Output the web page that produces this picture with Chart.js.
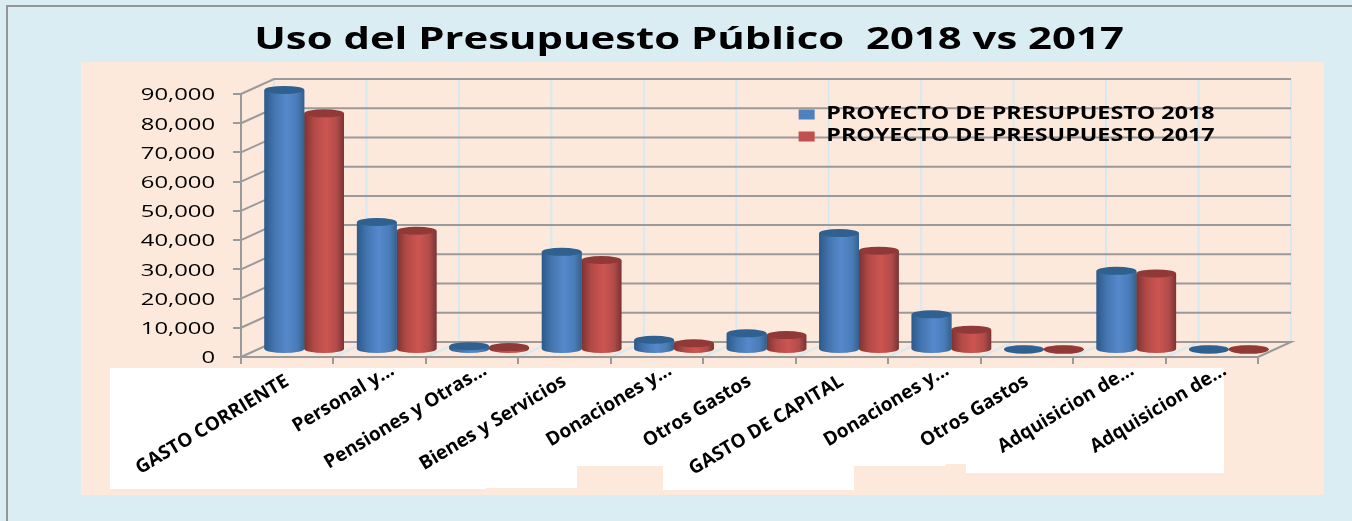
<!DOCTYPE html>
<html>
<head>
<meta charset="utf-8">
<title>Uso del Presupuesto Público</title>
<script src="https://cdn.jsdelivr.net/npm/chart.js@4"></script>
<style>
  html, body { margin: 0; padding: 0; background: #DAEDF3; overflow: hidden; }
  canvas { display: block; }
</style>
</head>
<body>
<canvas id="budget-chart" width="1352" height="521"></canvas>
<script>
const title = 'Uso del Presupuesto Público  2018 vs 2017';
const categories = ['GASTO CORRIENTE', 'Personal y...', 'Pensiones y Otras...', 'Bienes y Servicios', 'Donaciones y...', 'Otros Gastos', 'GASTO DE CAPITAL', 'Donaciones y...', 'Otros Gastos', 'Adquisicion de...', 'Adquisicion de...'];
const values2018 = [89000, 43800, 1300, 33600, 3500, 5700, 40000, 12200, 100, 27100, 100];
const values2017 = [81000, 40800, 1000, 30800, 2300, 5100, 34000, 6950, 60, 26200, 60];
const yTicks = [0, 10000, 20000, 30000, 40000, 50000, 60000, 70000, 80000, 90000];

// paper colours and the white patches pasted behind the category labels [x, y, w, h]
const labelPatches = [[110, 368, 376, 121], [486, 368, 91, 120], [577, 368, 86, 98], [663, 368, 191, 122], [854, 368, 92, 98], [946, 368, 20, 96], [966, 368, 258, 105]];
const blueStops = ['#2d5a8c', '#4475af', '#5689cd', '#4a7cb8', '#33628f'];
const redStops = ['#7e3331', '#b24a47', '#cd5551', '#b14b49', '#7b3432'];
const legendColors = ['#4F81BD', '#C0504D'];

// depth of the fake 3d box and of the bars inside it
const wallDx = 33, wallDy = -15;
const barDx = 17, barDy = -7, capRy = 4;
const catPercent = 0.86;

function stretchX(ctx, cx, sx, fn) {
  ctx.save();
  ctx.translate(cx, 0);
  ctx.scale(sx, 1);
  ctx.translate(-cx, 0);
  fn();
  ctx.restore();
}

function barFill(stops, flat, side) {
  return c => {
    const x = c.chart.scales.x;
    if (!x) return flat;
    const center = x.getPixelForValue(c.dataIndex);
    const w = (x.getPixelForValue(1) - x.getPixelForValue(0)) * catPercent / 2;
    const left = side === 0 ? center - w : center;
    if (!isFinite(left) || !isFinite(w) || w <= 0) return flat; // legend asks before layout
    const g = c.chart.ctx.createLinearGradient(left, 0, left + w, 0);
    [0, 0.25, 0.55, 0.82, 1].forEach((p, i) => g.addColorStop(p, stops[i]));
    return g;
  };
}

const cylinder3d = {
  id: 'cylinder3d',
  afterLayout(chart) {
    // the reference has text stretched sideways, and title + legend sit by hand
    const t = chart.titleBlock, l = chart.legend, y = chart.scales.y, x = chart.scales.x;
    t.left = 0; t.right = 1378; t.top = 1;
    l.left = 794; l.top = 101; l.right = 1300; l.bottom = 172;
    // clipped labels sit a bit further along in the reference
    x.getLabelItems().forEach(item => {
      if (String(item.label).endsWith('...')) {
        item.options.translation[0] += 13;
        item.options.translation[1] -= 11;
      }
    });
    if (!chart.$patched) {
      chart.$patched = true;
      const drawTitle = t.draw, drawLegend = l.draw, drawY = y.drawLabels;
      t.draw = function () { stretchX(chart.ctx, 689, 1.35, () => drawTitle.call(t)); };
      l.draw = function () { stretchX(chart.ctx, 800, 1.37, () => drawLegend.call(l)); };
      y.drawLabels = function (area) {
        stretchX(chart.ctx, 215, 1.4, () => {
          chart.ctx.translate(0, 1.5);
          drawY.call(y, area);
        });
      };
    }
  },
  beforeDraw(chart) {
    const { ctx, scales: { x, y } } = chart;
    const a = chart.chartArea;
    ctx.save();
    ctx.fillStyle = '#DAEDF3';
    ctx.fillRect(0, 0, chart.width, chart.height);
    ctx.fillStyle = '#969696';
    ctx.fillRect(6, 5, chart.width, 2);
    ctx.fillRect(6, 5, 2, chart.height);
    ctx.fillStyle = '#FDE9DB';
    ctx.fillRect(81, 62, 1243, 433);
    ctx.fillStyle = '#FFFFFF';
    labelPatches.forEach(p => ctx.fillRect(p[0], p[1], p[2], p[3]));

    // back wall verticals and floor lines at the category boundaries
    ctx.strokeStyle = '#D6E9F1';
    ctx.lineWidth = 2;
    const halfStep = (x.getPixelForValue(1) - x.getPixelForValue(0)) / 2;
    for (let i = 0; i <= categories.length; i++) {
      const px = x.getPixelForValue(i) - halfStep;
      ctx.beginPath();
      ctx.moveTo(px + wallDx, y.getPixelForValue(90000) + wallDy);
      ctx.lineTo(px + wallDx, a.bottom + wallDy);
      if (i < categories.length) ctx.lineTo(px, a.bottom);
      ctx.stroke();
    }

    // horizontal lines on the back wall and up the side wall
    ctx.strokeStyle = '#9A9A9A';
    yTicks.forEach(v => {
      const py = y.getPixelForValue(v);
      ctx.beginPath();
      ctx.moveTo(a.left, py);
      ctx.lineTo(a.left + wallDx, py + wallDy);
      ctx.lineTo(a.right + wallDx, py + wallDy);
      if (v === 0) ctx.lineTo(a.right, py);
      ctx.stroke();
    });
    ctx.restore();
  },
  beforeDatasetsDraw(chart) {
    chart.ctx.save();
    chart.ctx.translate(barDx, barDy);
  },
  afterDatasetDraw(chart, args) {
    const ctx = chart.ctx;
    const capColor = args.index === 0 ? '#30608f' : '#903937';
    args.meta.data.forEach(bar => {
      const rx = bar.width / 2;
      ctx.fillStyle = bar.options.backgroundColor;
      ctx.beginPath();
      ctx.ellipse(bar.x, bar.base, rx, capRy, 0, 0, Math.PI * 2);
      ctx.fill();
      ctx.fillRect(bar.x - rx, bar.y, bar.width, bar.base - bar.y);
      ctx.fillStyle = capColor;
      ctx.beginPath();
      ctx.ellipse(bar.x, bar.y, rx, capRy, 0, 0, Math.PI * 2);
      ctx.fill();
    });
  },
  afterDatasetsDraw(chart) {
    chart.ctx.restore();
  }
};

const budgetChart = new Chart(document.getElementById('budget-chart'), {
  type: 'bar',
  data: {
    labels: categories,
    datasets: [
      { label: 'PROYECTO DE PRESUPUESTO 2018', data: values2018, backgroundColor: barFill(blueStops, legendColors[0], 0), categoryPercentage: catPercent, barPercentage: 1 },
      { label: 'PROYECTO DE PRESUPUESTO 2017', data: values2017, backgroundColor: barFill(redStops, legendColors[1], 1), categoryPercentage: catPercent, barPercentage: 1 }
    ]
  },
  options: {
    responsive: false,
    animation: false,
    layout: { padding: { left: 0, right: 94, top: 0, bottom: 0 } },
    plugins: {
      tooltip: { enabled: false },
      title: {
        display: true,
        text: title,
        color: '#000000',
        font: { family: '"Open Sans"', size: 31, weight: 'bold', lineHeight: 1.2 },
        padding: { top: 21, bottom: 35.8 }
      },
      legend: {
        position: 'chartArea',
        align: 'start',
        labels: {
          color: '#000000',
          font: { family: '"Open Sans"', size: 17, weight: 'bold' },
          boxWidth: 11.7,
          boxHeight: 10,
          padding: 5,
          generateLabels: chart => Chart.defaults.plugins.legend.labels.generateLabels(chart).map((item, i) => ({ ...item, fillStyle: legendColors[i], lineWidth: 0 }))
        }
      }
    },
    scales: {
      x: {
        afterFit: s => { s.height = 164; },
        border: { color: '#9A9A9A', width: 2 },
        grid: { drawOnChartArea: false, color: '#9A9A9A', lineWidth: 2, tickLength: 7 },
        ticks: {
          autoSkip: false,
          minRotation: 31,
          maxRotation: 31,
          padding: 6,
          color: '#000000',
          font: { family: '"Open Sans"', size: 19, weight: 'bold' }
        }
      },
      y: {
        min: 0,
        max: 90000,
        afterFit: s => { s.width = 241; },
        border: { color: '#9A9A9A', width: 2 },
        grid: { drawOnChartArea: false, color: '#9A9A9A', lineWidth: 2, tickLength: 8 },
        afterBuildTicks: s => { s.ticks = yTicks.map(v => ({ value: v })); },
        ticks: {
          padding: 18,
          color: '#000000',
          font: { family: '"Open Sans"', size: 17 },
          callback: v => v.toLocaleString('en-US')
        }
      }
    }
  },
  plugins: [cylinder3d]
});
</script>
</body>
</html>
